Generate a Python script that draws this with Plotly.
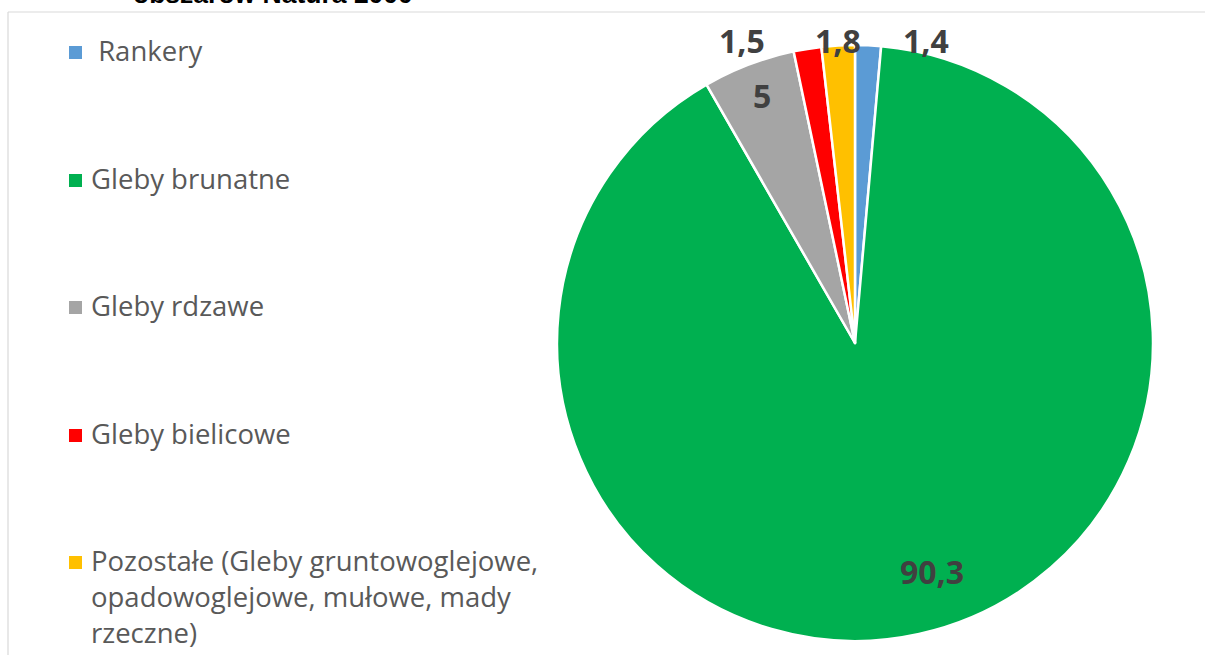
import plotly.graph_objects as go

# Soil type shares (%) within Natura 2000 sites
categories = [
    " Rankery",
    "Gleby brunatne",
    "Gleby rdzawe",
    "Gleby bielicowe",
    "Pozostałe (Gleby gruntowoglejowe, opadowoglejowe, mułowe, mady rzeczne)",
]
values = [1.4, 90.3, 5, 1.5, 1.8]
colors = ["#5B9BD5", "#00B050", "#A5A5A5", "#FF0000", "#FFC000"]
title_text = "obszarów Natura 2000"

# Page geometry (pixels)
W, H = 1205, 655
CX, CY, R = 855, 343, 298

# Value label centres in pixels, one per slice
label_px = [(926, 41), (932, 571), (762, 96), (742, 41), (838, 41)]
# Legend rows: vertical centres of each entry's first line
legend_rows = [52, 180, 307, 435, 562]
legend_line_gap = 36
legend_wrap = {4: ["Pozostałe (Gleby gruntowoglejowe,", "opadowoglejowe, mułowe, mady", "rzeczne)"]}


def px(x):
    return x / W


def py(y):
    return 1 - y / H


def fmt(v):
    return (f"{v:g}").replace(".", ",")


fig = go.Figure(
    go.Pie(
        labels=categories,
        values=values,
        sort=False,
        direction="clockwise",
        rotation=0,
        marker=dict(colors=colors, line=dict(color="white", width=2.5)),
        textinfo="none",
        hoverinfo="label+value",
        showlegend=False,
        domain=dict(x=[px(CX - R), px(CX + R)], y=[py(CY + R), py(CY - R)]),
    )
)

annotations = []
shapes = []

# Value labels
for v, (lx, ly) in zip(values, label_px):
    annotations.append(dict(
        x=px(lx), y=py(ly), xref="paper", yref="paper",
        text=f"<b>{fmt(v)}</b>", showarrow=False,
        xanchor="center", yanchor="middle",
        font=dict(family="Open Sans", size=32, color="#404040"),
    ))

# Legend drawn at the left
for i, (cat, col, ry) in enumerate(zip(categories, colors, legend_rows)):
    shapes.append(dict(
        type="rect", xref="paper", yref="paper",
        x0=px(69), x1=px(82), y0=py(ry + 7), y1=py(ry - 6),
        fillcolor=col, line=dict(width=0),
    ))
    lines = legend_wrap.get(i, [cat.replace(" ", "\u00a0", 1) if cat.startswith(" ") else cat])
    for k, line in enumerate(lines):
        annotations.append(dict(
            x=px(89), y=py(ry - 2 + k * legend_line_gap), xref="paper", yref="paper",
            text=line, showarrow=False, xanchor="left", yanchor="middle",
            font=dict(family="Open Sans", size=27.5, color="#595959"),
        ))

# Title (upper part lies above the page)
annotations.append(dict(
    x=px(273), y=py(-6), xref="paper", yref="paper",
    text=f"<b>{title_text}</b>", showarrow=False,
    xanchor="center", yanchor="middle",
    font=dict(family="Liberation Sans", size=26.5, color="#000000"),
))

# Chart-area frame
frame = "#D9D9D9"
shapes.append(dict(type="line", xref="paper", yref="paper",
                   x0=px(8), x1=1, y0=py(12), y1=py(12), line=dict(color=frame, width=1.2)))
shapes.append(dict(type="line", xref="paper", yref="paper",
                   x0=px(8), x1=px(8), y0=py(12), y1=0, line=dict(color=frame, width=1.2)))

fig.update_layout(
    width=W, height=H,
    margin=dict(l=0, r=0, t=0, b=0),
    paper_bgcolor="white", plot_bgcolor="white",
    annotations=annotations, shapes=shapes,
)

fig.write_html("out.html")
